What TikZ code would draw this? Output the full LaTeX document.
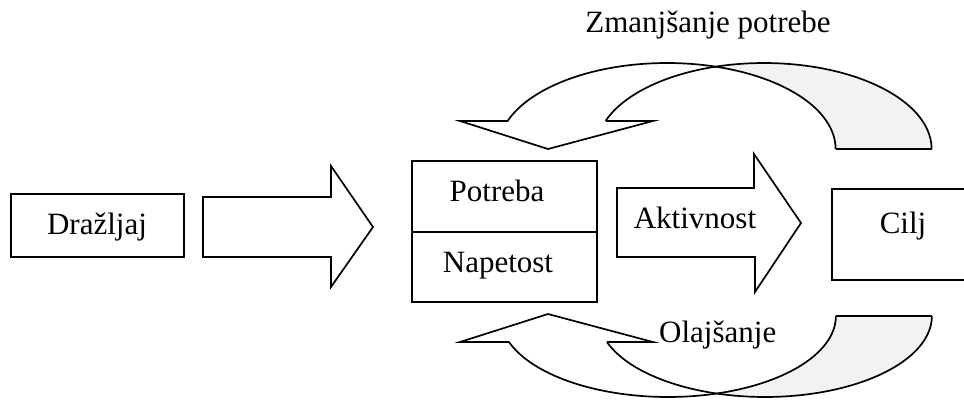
\documentclass[tikz,border=0pt]{standalone}
\usepackage{fontspec}
\setmainfont{Liberation Serif}
\begin{document}
\begin{tikzpicture}[x=1pt,y=-1pt,
  ln/.style={line width=1.7pt,line join=miter},
  lbl/.style={anchor=base,inner sep=0pt,font=\fontsize{31}{36}\selectfont},
  back/.style={fill=black!5,draw=none}]
\useasboundingbox (0,0) rectangle (964,400);
% boxes
\draw[ln] (11,194) rectangle (184,257);
\draw[ln] (412,161) rectangle (597,302);
\draw[ln] (412,232) -- (597,232);
\draw[ln] (964,189) -- (832,189) -- (832,280) -- (964,280);
% block arrows
\draw[ln] (203,197) -- (331,197) -- (331,166) -- (373,227) -- (331,287) -- (331,257) -- (203,257) -- cycle;
\draw[ln] (617,188) -- (754,188) -- (754,154) -- (801,223) -- (755,292) -- (755,257) -- (617,257) -- cycle;
% top curved arrow
\fill[back] plot[domain=-106.8:0,samples=50] ({764+167.6*cos(\x)},{149+86*sin(\x)})
  -- plot[domain=0:-73.3,samples=50] ({667+168.6*cos(\x)},{149+86*sin(\x)}) -- cycle;
\draw[ln] plot[domain=-161:0,samples=80] ({667+168.6*cos(\x)},{149+86*sin(\x)});
\draw[ln] plot[domain=-161:0,samples=80] ({764+167.6*cos(\x)},{149+86*sin(\x)});
\draw[ln] (836,149) -- (932,149);
\draw[ln] (508,121) -- (460,121) -- (548,149) -- (653,121) -- (606,121);
% bottom curved arrow
\fill[back] plot[domain=106.9:0,samples=50] ({765+166.9*cos(\x)},{316+81*sin(\x)})
  -- plot[domain=0:73.2,samples=50] ({668+167.9*cos(\x)},{316+81*sin(\x)}) -- cycle;
\draw[ln] plot[domain=161.3:0,samples=80] ({668+167.9*cos(\x)},{316+81*sin(\x)});
\draw[ln] plot[domain=161.3:0,samples=80] ({765+166.9*cos(\x)},{316+81*sin(\x)});
\draw[ln] (836,316) -- (932,316);
\draw[ln] (509,342) -- (460,342) -- (548,314) -- (653,342) -- (607,342);
% labels
\node[lbl] (drazljaj) at (97,234) {Dražljaj};
\node[lbl] (potreba) at (497,201) {Potreba};
\node[lbl] (napetost) at (498,272) {Napetost};
\node[lbl] (aktivnost) at (695,228) {Aktivnost};
\node[lbl] (cilj) at (903,233) {Cilj};
\node[lbl,anchor=base west] (olajsanje) at (659,342) {Olajšanje};
\node[lbl] (zmanjsanje) at (708,32) {Zmanjšanje potrebe};
\end{tikzpicture}
\end{document}
